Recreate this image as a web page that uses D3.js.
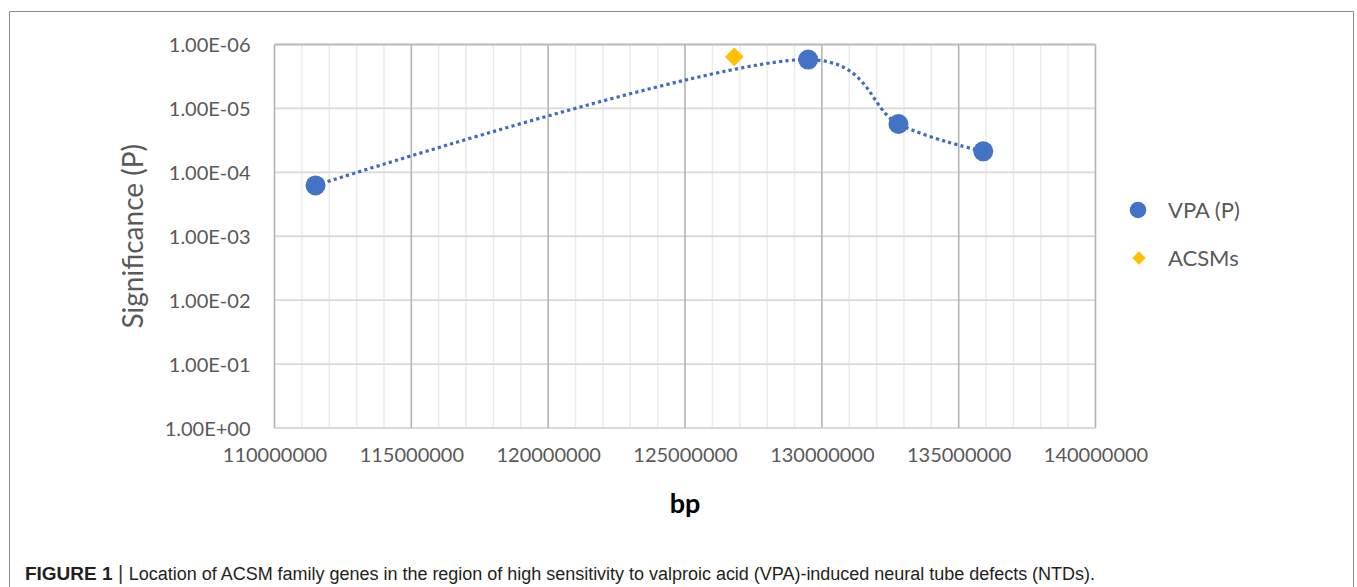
<!DOCTYPE html>
<html>
<head>
<meta charset="utf-8">
<script src="https://cdn.jsdelivr.net/npm/d3@7"></script>
<style>
  body { margin: 0; background: #fff; }
  svg { display: block; }
</style>
</head>
<body>
<div id="chart"></div>
<script>
// values
const xTicks = [110000000, 115000000, 120000000, 125000000, 130000000, 135000000, 140000000]
const yTicks = [1, 1e-1, 1e-2, 1e-3, 1e-4, 1e-5, 1e-6]
const vpaBp = [111500000, 129500000, 132800000, 135900000]
const vpaP = [1.6e-4, 1.72e-6, 1.75e-5, 4.7e-5]
const acsmBp = [126800000]
const acsmP = [1.56e-6]
const seriesNames = ["VPA (P)", "ACSMs"]

const width = 1357, height = 587
let margin = ({top: 44.5, right: 260, bottom: 159, left: 274.5})

const blue = "#4472c4", gold = "#ffc000", textGrey = "#595959"
const font = "Lato, 'Open Sans', sans-serif"

const svg = d3.select("#chart").append("svg")
  .attr("width", width).attr("height", height)

// outer frame of the figure
svg.append("path")
  .attr("d", `M9.5,${height} V11.5 H1353.5 V${height}`)
  .attr("fill", "none").attr("stroke", "#8c8c8c")

let x = d3.scaleLinear()
  .domain([xTicks[0], xTicks[xTicks.length - 1]])
  .range([margin.left, width - margin.right + 0.5 - 2])

let y = d3.scaleLog()
  .domain([yTicks[0], yTicks[yTicks.length - 1]])
  .range([height - margin.bottom, margin.top])

// 1.00E-06 style labels
let fmtP = v => {
  let [m, e] = v.toExponential(2).split("e")
  let sign = e[0] === "-" ? "-" : "+"
  let n = Math.abs(+e)
  return `${m}E${sign}${String(n).padStart(2, "0")}`
}

const grid = svg.append("g")

// minor vertical lines every 1,000,000
grid.append("g")
  .selectAll("line")
  .data(x.ticks(30))
  .join("line")
  .attr("x1", d => x(d)).attr("x2", d => x(d))
  .attr("y1", y.range()[0]).attr("y2", y.range()[1])
  .attr("stroke", "#ebebeb").attr("stroke-width", 1.5)

// horizontal decade lines
grid.append("g")
  .selectAll("line")
  .data(yTicks)
  .join("line")
  .attr("x1", x.range()[0]).attr("x2", x.range()[1])
  .attr("y1", d => y(d)).attr("y2", d => y(d))
  .attr("stroke", "#d9d9d9").attr("stroke-width", 1.8)

// major vertical lines
grid.append("g")
  .selectAll("line")
  .data(xTicks)
  .join("line")
  .attr("x1", d => x(d)).attr("x2", d => x(d))
  .attr("y1", y.range()[0]).attr("y2", y.range()[1])
  .attr("stroke", "#b3b3b3").attr("stroke-width", 1.5)

// top border of the plot area
grid.append("line")
  .attr("x1", x.range()[0]).attr("x2", x.range()[1])
  .attr("y1", y.range()[1]).attr("y2", y.range()[1])
  .attr("stroke", "#bfbfbf").attr("stroke-width", 1.8)

// axes (labels only, no domain or ticks)
let xAxis = g => g
  .attr("transform", `translate(0,${y.range()[0]})`)
  .call(d3.axisBottom(x).tickValues(xTicks).tickFormat(d3.format("d")).tickSize(0).tickPadding(20))
  .call(g => g.selectAll(".domain").remove())

let yAxis = g => g
  .attr("transform", `translate(${x.range()[0]},0)`)
  .call(d3.axisLeft(y).tickValues(yTicks).tickFormat(fmtP).tickSize(0).tickPadding(24))
  .call(g => g.selectAll(".domain").remove())

svg.append("g").call(xAxis)
  .selectAll("text")
  .attr("font-family", font).attr("font-size", 20).attr("fill", textGrey)
  .attr("dy", "0.71em")

svg.append("g").call(yAxis)
  .selectAll("text")
  .attr("font-family", font).attr("font-size", 20).attr("fill", textGrey)
  .attr("dy", "0.35em")

// axis titles
svg.append("text")
  .attr("transform", `translate(143,${(y.range()[0] + y.range()[1]) / 2}) rotate(-90)`)
  .attr("text-anchor", "middle")
  .attr("font-family", font).attr("font-size", 28).attr("fill", textGrey)
  .text("Significance (P)")

svg.append("text")
  .attr("x", (x.range()[0] + x.range()[1]) / 2).attr("y", 513)
  .attr("text-anchor", "middle")
  .attr("font-family", font).attr("font-size", 27).attr("font-weight", "bold").attr("fill", "#000")
  .text("bp")

// VPA series: smoothed dotted line + circles
const vpa = vpaBp.map((b, i) => ({bp: b, p: vpaP[i]}))
const acsm = acsmBp.map((b, i) => ({bp: b, p: acsmP[i]}))

let line = d3.line()
  .x(d => x(d.bp)).y(d => y(d.p))
  .curve(d3.curveCatmullRom.alpha(0.25))

svg.append("path")
  .datum(vpa)
  .attr("d", line)
  .attr("fill", "none")
  .attr("stroke", "#3f6cbf").attr("stroke-width", 3.2)
  .attr("stroke-dasharray", "3.2,3.2")

svg.append("g")
  .selectAll("circle")
  .data(vpa)
  .join("circle")
  .attr("cx", d => x(d.bp)).attr("cy", d => y(d.p))
  .attr("r", 10)
  .attr("fill", blue)

const diamond = d3.symbol().type(d3.symbolDiamond2)

svg.append("g")
  .selectAll("path")
  .data(acsm)
  .join("path")
  .attr("transform", d => `translate(${x(d.bp)},${y(d.p)})`)
  .attr("d", diamond.size(2 * 10.5 * 10.5))
  .attr("fill", gold)

// legend
const legend = svg.append("g").attr("font-family", font).attr("font-size", 22).attr("fill", textGrey)
legend.append("circle").attr("cx", 1138).attr("cy", 210).attr("r", 8.3).attr("fill", blue)
legend.append("path").attr("transform", "translate(1139,258)")
  .attr("d", d3.symbol().type(d3.symbolDiamond2).size(2 * 7.5 * 7.5)()).attr("fill", gold)
legend.selectAll("text")
  .data(seriesNames)
  .join("text")
  .attr("x", 1168).attr("y", (d, i) => 210 + i * 48)
  .attr("dy", "0.35em")
  .text(d => d)

// figure caption
const cap = svg.append("text")
  .attr("x", 25).attr("y", 580)
  .attr("font-family", "'Liberation Sans Narrow', 'Arial Narrow', 'Liberation Sans', sans-serif")
  .attr("font-size", 18).attr("fill", "#231f20")
  .attr("textLength", 1070)
cap.append("tspan").attr("font-weight", "bold").attr("font-size", 19).text("FIGURE 1")
cap.append("tspan").attr("fill", "#333").attr("font-size", 20).text("  |  ")
cap.append("tspan").text("Location of ACSM family genes in the region of high sensitivity to valproic acid (VPA)-induced neural tube defects (NTDs).")
</script>
</body>
</html>
